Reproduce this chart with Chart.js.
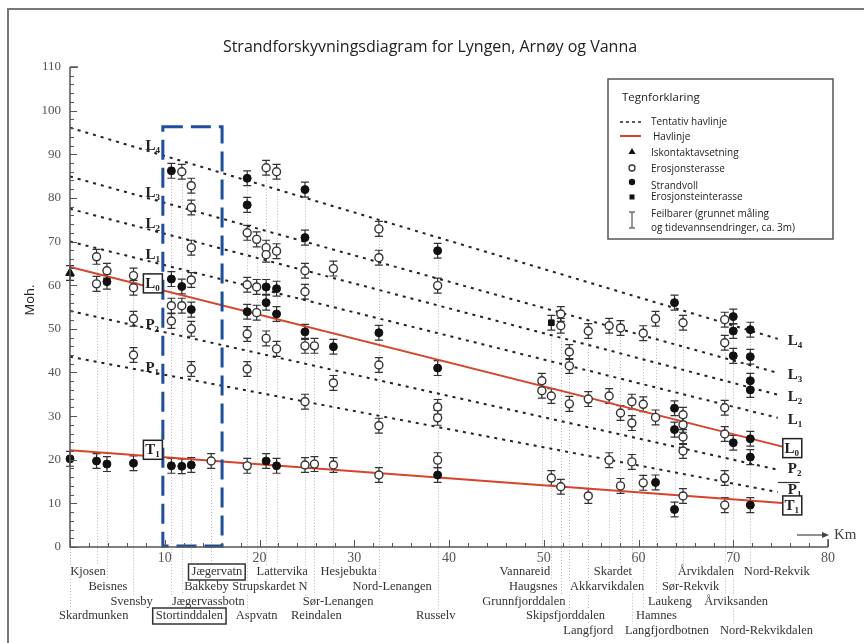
<!DOCTYPE html>
<html>
<head>
<meta charset="utf-8">
<script src="https://cdn.jsdelivr.net/npm/chart.js@4/dist/chart.umd.min.js"></script>
<style>
  html, body { margin: 0; padding: 0; background: #fff; }
  #wrap { width: 864px; height: 643px; position: relative; }
</style>
</head>
<body>
<div id="wrap"><canvas id="c" width="864" height="643"></canvas></div>
<script>
// Axis ticks
const xTickValues = [10, 20, 30, 40, 50, 60, 70, 80];
const yTickValues = [0, 10, 20, 30, 40, 50, 60, 70, 80, 90, 100, 110];

// Tentative sea levels (dotted): height at 0 km and at the end km
const tentativeNames = ['L4', 'L3', 'L2', 'L1', 'P2', 'P1'];
const tentativeStart = [96.1, 84.9, 77.5, 70.0, 54.1, 43.6];
const tentativeEnd = [47.7, 39.9, 34.9, 29.6, 17.7, 12.6];
const tentativeEndKm = 74.7;

// Established sea levels (red)
const seaNames = ['L0', 'T1'];
const seaStart = [64.2, 22.2];
const seaEnd = [23.0, 10.1];
const seaEndKm = 75.2;

// Measured localities: [km, height in m]
const iceContact = [[0, 62.8]];
const erosionTerrace = [
  [2.8, 66.5], [2.8, 60.3], [3.9, 63.3], [6.7, 62.2], [6.7, 59.4], [6.7, 52.3], [6.7, 44.0],
  [10.7, 55.3], [10.7, 51.8], [11.8, 86.0], [11.8, 55.3],
  [12.8, 82.8], [12.8, 77.8], [12.8, 68.6], [12.8, 61.2], [12.8, 50.0], [12.8, 40.8],
  [14.9, 19.7],
  [18.7, 72.0], [18.7, 60.1], [18.7, 48.8], [18.7, 40.8], [18.7, 18.6],
  [19.7, 70.5], [19.7, 59.6], [19.7, 53.7],
  [20.7, 86.9], [20.7, 68.6], [20.7, 67.0], [20.7, 47.8],
  [21.8, 86.0], [21.8, 67.8], [21.8, 45.4],
  [24.8, 63.3], [24.8, 58.5], [24.8, 46.1], [24.8, 33.3], [24.8, 18.8],
  [25.8, 46.1], [25.8, 19.0],
  [27.8, 63.8], [27.8, 37.6], [27.8, 18.8],
  [32.6, 72.9], [32.6, 66.3], [32.6, 41.7], [32.6, 27.8], [32.6, 16.5],
  [38.8, 59.9], [38.8, 32.1], [38.8, 29.6], [38.8, 19.9],
  [49.8, 38.1], [49.8, 35.8], [50.8, 34.6], [50.8, 15.8],
  [51.8, 53.4], [51.8, 50.7], [51.8, 13.8],
  [52.7, 44.7], [52.7, 41.5], [52.7, 32.8],
  [54.7, 49.5], [54.7, 33.9], [54.7, 11.7],
  [56.9, 50.7], [56.9, 34.6], [56.9, 19.9],
  [58.1, 50.2], [58.1, 30.7], [58.1, 14.0],
  [59.3, 33.3], [59.3, 28.4], [59.3, 19.5],
  [60.5, 49.0], [60.5, 32.7], [60.5, 14.7],
  [61.8, 52.3], [61.8, 29.7],
  [64.7, 51.4], [64.7, 30.3], [64.7, 28.0], [64.7, 25.2], [64.7, 22.0], [64.7, 11.7],
  [69.1, 52.1], [69.1, 46.8], [69.1, 31.9], [69.1, 25.9], [69.1, 15.8], [69.1, 9.6]
];
const beachRidge = [
  [0, 20.2], [2.8, 19.7], [3.9, 60.8], [3.9, 19.0], [6.7, 19.2],
  [10.7, 86.2], [10.7, 61.4], [10.7, 18.6], [11.8, 59.7], [11.8, 18.5],
  [12.8, 54.4], [12.8, 18.8],
  [18.7, 84.5], [18.7, 78.4], [18.7, 53.9],
  [20.7, 59.6], [20.7, 56.0], [20.7, 19.7],
  [21.8, 59.2], [21.8, 53.4], [21.8, 18.6],
  [24.8, 81.9], [24.8, 70.9], [24.8, 49.3],
  [27.8, 45.9], [32.6, 49.1],
  [38.8, 67.9], [38.8, 41.0], [38.8, 16.5],
  [61.8, 14.8],
  [63.8, 56.0], [63.8, 31.8], [63.8, 26.9], [63.8, 8.6],
  [70.0, 52.8], [70.0, 49.5], [70.0, 43.8], [70.0, 23.9],
  [71.8, 49.8], [71.8, 43.6], [71.8, 38.1], [71.8, 36.0], [71.8, 24.8], [71.8, 20.6], [71.8, 9.6]
];
const rockTerrace = [[50.8, 51.4]];
const errorHalf = 1.7; // ± m

// Locality km positions and which label row their guide line reaches
const localityKm = [0, 2.8, 3.9, 6.7, 10.7, 11.8, 12.8, 14.9, 18.7, 19.7, 20.7, 21.8, 24.8, 25.8, 27.8,
  32.6, 38.8, 49.8, 50.8, 51.8, 52.7, 54.7, 56.9, 58.1, 59.3, 60.5, 61.8, 63.8, 64.7, 69.1, 70.0, 71.8];
const localityRow = [3, 0, 1, 2, 3, 2, 1, 0, 3, 1, 1, 0, 3, 2, 0,
  1, 3, 0, 1, 2, 3, 4, 1, 0, 4, 3, 2, 1, 0, 2, 4, 0];

// Place names under the axis: name, label centre (km), row
const placeNames = ['Kjosen', 'Beisnes', 'Svensby', 'Skardmunken', 'Jægervatn', 'Bakkeby', 'Jægervassbotn',
  'Stortinddalen', 'Lattervika', 'Strupskardet N', 'Aspvatn', 'Hesjebukta', 'Nord-Lenangen', 'Sør-Lenangen',
  'Reindalen', 'Russelv', 'Vannareid', 'Haugsnes', 'Grunnfjorddalen', 'Skipsfjorddalen', 'Langfjord',
  'Skardet', 'Akkarvikdalen', 'Langfjordbotnen', 'Hamnes', 'Laukeng', 'Sør-Rekvik', 'Årvikdalen',
  'Årviksanden', 'Nord-Rekvik', 'Nord-Rekvikdalen'];
const placeKm = [1.9, 4.0, 6.5, 2.5, 15.5, 14.4, 14.6, 12.6, 22.4, 21.1, 19.7, 29.4, 34.0, 28.3,
  26.0, 38.6, 48.0, 48.9, 47.9, 52.3, 54.7, 57.3, 56.7, 63.0, 61.9, 63.3, 65.5, 67.1, 70.3, 74.6, 73.5];
const placeRow = [0, 1, 2, 3, 0, 1, 2, 3, 0, 1, 3, 0, 1, 2, 3, 3, 0, 1, 2, 3, 4, 0, 1, 4, 3, 2, 1, 0, 2, 0, 4];
const boxedPlaces = ['Jægervatn', 'Stortinddalen'];

// Study window (km range and top height)
const windowKm = [9.8, 16.05];
const windowTop = 96.3;

const SERIF = '"Liberation Serif", "DejaVu Serif", serif';
const SANS = '"Open Sans", "Liberation Sans", sans-serif';
const rowY = [572, 587, 602, 616, 631];

function toXY(arr) { return arr.map(p => ({ x: p[0], y: p[1] })); }

const datasets = [];
tentativeNames.forEach((n, i) => {
  datasets.push({
    label: n, type: 'line', showLine: true, order: 2,
    data: [{ x: 0, y: tentativeStart[i] }, { x: tentativeEndKm, y: tentativeEnd[i] }],
    borderColor: '#222', borderWidth: 2, borderDash: [3, 5], pointRadius: 0, fill: false
  });
});
seaNames.forEach((n, i) => {
  datasets.push({
    label: n, type: 'line', showLine: true, order: 2,
    data: [{ x: 0, y: seaStart[i] }, { x: seaEndKm, y: seaEnd[i] }],
    borderColor: '#d8432e', borderWidth: 2, pointRadius: 0, fill: false
  });
});
datasets.push({ label: 'Erosjonsterasse', data: toXY(erosionTerrace), order: 0, errorBars: true, clip: false,
  pointStyle: 'circle', pointRadius: 4, backgroundColor: '#fff', borderColor: '#333', borderWidth: 1.4 });
datasets.push({ label: 'Strandvoll', data: toXY(beachRidge), order: 0, errorBars: true, clip: false,
  pointStyle: 'circle', pointRadius: 4, backgroundColor: '#111', borderColor: '#111', borderWidth: 1 });
datasets.push({ label: 'Iskontaktavsetning', data: toXY(iceContact), order: 0, errorBars: true, clip: false,
  pointStyle: 'triangle', pointRadius: 5, backgroundColor: '#111', borderColor: '#111', borderWidth: 1 });
datasets.push({ label: 'Erosjonsteinterasse', data: toXY(rockTerrace), order: 0, errorBars: true, clip: false,
  pointStyle: 'rect', pointRadius: 4, backgroundColor: '#111', borderColor: '#111', borderWidth: 1 });

function subLabel(ctx, base, sub, x, y, align) {
  ctx.save();
  ctx.fillStyle = '#222';
  ctx.textBaseline = 'alphabetic';
  ctx.font = 'bold 15px ' + SERIF;
  const w1 = ctx.measureText(base).width;
  ctx.font = 'bold 9px ' + SERIF;
  const w2 = ctx.measureText(sub).width;
  let x0 = align === 'center' ? x - (w1 + w2) / 2 : x;
  ctx.font = 'bold 15px ' + SERIF;
  ctx.fillText(base, x0, y + 5);
  ctx.font = 'bold 9px ' + SERIF;
  ctx.fillText(sub, x0 + w1, y + 8);
  ctx.restore();
  return w1 + w2;
}

function boxedLabel(ctx, base, sub, cx, cy) {
  ctx.save();
  ctx.fillStyle = '#fff';
  ctx.fillRect(cx - 9, cy - 9, 19, 19);
  ctx.strokeStyle = '#222';
  ctx.lineWidth = 1.5;
  ctx.strokeRect(cx - 9, cy - 9, 19, 19);
  ctx.restore();
  subLabel(ctx, base, sub, cx, cy, 'center');
}

const drawPlugin = {
  id: 'shoreDiagram',
  beforeDatasetsDraw(chart) {
    const { ctx, scales: { x, y } } = chart;
    // guide lines from each locality down to its place name
    ctx.save();
    ctx.strokeStyle = '#b8b8b8';
    ctx.lineWidth = 1;
    ctx.setLineDash([1, 2]);
    const allPts = erosionTerrace.concat(beachRidge, iceContact, rockTerrace);
    localityKm.forEach((km, i) => {
      const top = Math.max(...allPts.filter(p => p[0] === km).map(p => p[1]));
      const px = Math.round(x.getPixelForValue(km)) + 0.5;
      ctx.beginPath();
      ctx.moveTo(px, y.getPixelForValue(top) + 6);
      ctx.lineTo(px, rowY[localityRow[i]] - 7);
      ctx.stroke();
    });
    ctx.restore();

    // error bars
    ctx.save();
    ctx.strokeStyle = '#333';
    ctx.lineWidth = 1.2;
    chart.data.datasets.forEach(ds => {
      if (!ds.errorBars) return;
      ds.data.forEach(p => {
        const px = x.getPixelForValue(p.x);
        const y1 = y.getPixelForValue(p.y + errorHalf);
        const y2 = y.getPixelForValue(p.y - errorHalf);
        ctx.beginPath();
        ctx.moveTo(px, y1); ctx.lineTo(px, y2);
        ctx.moveTo(px - 4, y1); ctx.lineTo(px + 4, y1);
        ctx.moveTo(px - 4, y2); ctx.lineTo(px + 4, y2);
        ctx.stroke();
      });
    });
    ctx.restore();
  },
  afterDatasetsDraw(chart) {
    const { ctx, chartArea: a, scales: { x, y } } = chart;

    // study window
    ctx.save();
    ctx.strokeStyle = '#1f4e9b';
    ctx.lineWidth = 3;
    ctx.setLineDash([20, 8]);
    const wx1 = x.getPixelForValue(windowKm[0]), wx2 = x.getPixelForValue(windowKm[1]);
    const wy1 = y.getPixelForValue(windowTop), wy2 = y.getPixelForValue(0) - 1;
    ctx.strokeRect(wx1, wy1, wx2 - wx1, wy2 - wy1);
    ctx.restore();

    // axes
    ctx.save();
    ctx.strokeStyle = '#555';
    ctx.lineWidth = 1.5;
    ctx.beginPath();
    ctx.moveTo(a.left, a.top); ctx.lineTo(a.left, a.bottom); ctx.lineTo(a.right, a.bottom);
    ctx.moveTo(a.right, a.bottom); ctx.lineTo(a.right, a.bottom - 8);
    ctx.moveTo(a.left, a.top); ctx.lineTo(a.left + 8, a.top);
    ctx.stroke();
    ctx.lineWidth = 1;
    ctx.beginPath();
    for (let v = 0; v <= 110; v += 2) {
      const py = Math.round(y.getPixelForValue(v)) + 0.5;
      ctx.moveTo(a.left, py); ctx.lineTo(a.left + (v % 10 === 0 ? 7 : 4), py);
    }
    for (let v = 0; v <= 80; v += 2) {
      const px = Math.round(x.getPixelForValue(v)) + 0.5;
      ctx.moveTo(px, a.bottom); ctx.lineTo(px, a.bottom - (v % 10 === 0 ? 7 : 4));
    }
    ctx.stroke();
    ctx.fillStyle = '#555';
    ctx.font = '13px ' + SERIF;
    ctx.textAlign = 'right';
    ctx.textBaseline = 'middle';
    yTickValues.forEach(v => ctx.fillText(String(v), a.left - 9, y.getPixelForValue(v)));
    ctx.font = '14px ' + SERIF;
    ctx.textAlign = 'center';
    ctx.textBaseline = 'top';
    xTickValues.forEach(v => ctx.fillText(String(v), x.getPixelForValue(v), a.bottom + 4));
    ctx.restore();

    // Km arrow
    ctx.save();
    ctx.strokeStyle = '#444';
    ctx.fillStyle = '#444';
    ctx.lineWidth = 1.2;
    ctx.beginPath();
    ctx.moveTo(797, 535); ctx.lineTo(826, 535); ctx.stroke();
    ctx.beginPath();
    ctx.moveTo(829, 535); ctx.lineTo(822, 532); ctx.lineTo(822, 538); ctx.closePath(); ctx.fill();
    ctx.font = '15px ' + SERIF;
    ctx.textBaseline = 'middle';
    ctx.fillText('Km', 834, 535);
    ctx.restore();

    // line labels, left side
    const leftKm = 8.8;
    const lineVal = (s, e, endKm, km) => s + (e - s) * km / endKm;
    ['L4', 'L3', 'L2', 'L1'].forEach((n, i) => {
      const py = y.getPixelForValue(lineVal(tentativeStart[i], tentativeEnd[i], tentativeEndKm, leftKm));
      subLabel(ctx, 'L', n[1], x.getPixelForValue(leftKm) - 8, py - 8);
    });
    ['P2', 'P1'].forEach((n, j) => {
      const i = j + 4;
      const py = y.getPixelForValue(lineVal(tentativeStart[i], tentativeEnd[i], tentativeEndKm, leftKm));
      subLabel(ctx, 'P', n[1], x.getPixelForValue(leftKm) - 8, py - 6);
    });
    {
      const py0 = y.getPixelForValue(lineVal(seaStart[0], seaEnd[0], seaEndKm, leftKm));
      boxedLabel(ctx, 'L', '0', x.getPixelForValue(leftKm) - 1, py0 - 5);
      const py1 = y.getPixelForValue(lineVal(seaStart[1], seaEnd[1], seaEndKm, leftKm));
      boxedLabel(ctx, 'T', '1', x.getPixelForValue(leftKm) - 1, py1 - 7);
    }
    // line labels, right side
    const rx = x.getPixelForValue(tentativeEndKm) + 10;
    ['L4', 'L3', 'L2', 'L1'].forEach((n, i) => {
      subLabel(ctx, 'L', n[1], rx, y.getPixelForValue(tentativeEnd[i]) + 1);
    });
    subLabel(ctx, 'P', '2', rx, y.getPixelForValue(tentativeEnd[4]) - 2);
    subLabel(ctx, 'P', '1', rx, y.getPixelForValue(tentativeEnd[5]) - 3);
    ctx.save();
    ctx.strokeStyle = '#333'; ctx.lineWidth = 1.2;
    ctx.beginPath(); ctx.moveTo(rx - 10, 482.5); ctx.lineTo(rx + 12, 482.5); ctx.stroke();
    ctx.restore();
    boxedLabel(ctx, 'L', '0', rx + 4, y.getPixelForValue(seaEnd[0]) + 1);
    boxedLabel(ctx, 'T', '1', rx + 4, y.getPixelForValue(seaEnd[1]) + 2);

    // place names
    ctx.save();
    ctx.font = '12.5px ' + SERIF;
    ctx.fillStyle = '#333';
    ctx.textAlign = 'center';
    ctx.textBaseline = 'middle';
    placeNames.forEach((n, i) => {
      const px = x.getPixelForValue(placeKm[i]);
      const py = rowY[placeRow[i]];
      ctx.fillStyle = '#fff';
      const w = ctx.measureText(n).width;
      ctx.fillRect(px - w / 2 - 1, py - 6, w + 2, 12);
      ctx.fillStyle = '#333';
      ctx.fillText(n, px, py);
      if (boxedPlaces.includes(n)) {
        ctx.strokeStyle = '#333';
        ctx.lineWidth = 1.5;
        ctx.strokeRect(px - w / 2 - 3, py - 8, w + 6, 16);
      }
    });
    ctx.restore();

    // title and axis title
    ctx.save();
    ctx.fillStyle = '#222';
    ctx.font = '16px ' + SANS;
    ctx.textAlign = 'center';
    ctx.textBaseline = 'middle';
    ctx.fillText('Strandforskyvningsdiagram for Lyngen, Arnøy og Vanna', 430, 47);
    ctx.translate(30, 300);
    ctx.rotate(-Math.PI / 2);
    ctx.font = '13px ' + SANS;
    ctx.fillText('Moh.', 0, 0);
    ctx.restore();

    // legend
    ctx.save();
    ctx.fillStyle = '#fff';
    ctx.fillRect(608, 79, 225, 160);
    ctx.strokeStyle = '#555';
    ctx.lineWidth = 1.5;
    ctx.strokeRect(608, 79, 225, 160);
    ctx.fillStyle = '#222';
    ctx.font = '11.5px ' + SANS;
    ctx.textBaseline = 'middle';
    ctx.fillText('Tegnforklaring', 622, 98);
    ctx.font = '10px ' + SANS;
    ctx.strokeStyle = '#222';
    ctx.lineWidth = 1.5;
    ctx.setLineDash([3, 3]);
    ctx.beginPath(); ctx.moveTo(620, 122); ctx.lineTo(643, 122); ctx.stroke();
    ctx.setLineDash([]);
    ctx.strokeStyle = '#d8432e'; ctx.lineWidth = 2;
    ctx.beginPath(); ctx.moveTo(620, 136); ctx.lineTo(641, 136); ctx.stroke();
    ctx.fillStyle = '#111';
    ctx.beginPath(); ctx.moveTo(632, 148); ctx.lineTo(635.5, 154); ctx.lineTo(628.5, 154); ctx.closePath(); ctx.fill();
    ctx.strokeStyle = '#333'; ctx.lineWidth = 1.3;
    ctx.beginPath(); ctx.arc(632, 168, 3, 0, Math.PI * 2); ctx.stroke();
    ctx.beginPath(); ctx.arc(632, 182, 3.2, 0, Math.PI * 2); ctx.fill();
    ctx.fillRect(629.5, 194.5, 5, 5);
    ctx.lineWidth = 1;
    ctx.beginPath();
    ctx.moveTo(632, 212); ctx.lineTo(632, 228);
    ctx.moveTo(629, 212); ctx.lineTo(635, 212);
    ctx.moveTo(629, 228); ctx.lineTo(635, 228);
    ctx.stroke();
    ctx.fillStyle = '#222';
    ctx.fillText('Tentativ havlinje', 651, 122);
    ctx.fillText('Havlinje', 653, 137);
    ctx.fillText('Iskontaktavsetning', 651, 153);
    ctx.fillText('Erosjonsterasse', 651, 169);
    ctx.fillText('Strandvoll', 651, 186);
    ctx.fillText('Erosjonsteinterasse', 651, 197);
    ctx.fillText('Feilbarer (grunnet måling', 651, 214);
    ctx.fillText('og tidevannsendringer, ca. 3m)', 651, 228);
    ctx.restore();

    // outer frame
    ctx.save();
    ctx.strokeStyle = '#777';
    ctx.lineWidth = 2;
    ctx.beginPath();
    ctx.moveTo(8, 643); ctx.lineTo(8, 9); ctx.lineTo(864, 9);
    ctx.stroke();
    ctx.restore();
  }
};

new Chart(document.getElementById('c'), {
  type: 'scatter',
  data: { datasets },
  options: {
    responsive: false,
    animation: false,
    layout: { padding: { left: 70, right: 36, top: 67, bottom: 96 } },
    plugins: { legend: { display: false }, tooltip: { enabled: false }, title: { display: false } },
    scales: {
      x: { type: 'linear', min: 0, max: 80, display: false },
      y: { type: 'linear', min: 0, max: 110, display: false }
    },
    elements: { line: { tension: 0 } }
  },
  plugins: [drawPlugin]
});
</script>
</body>
</html>
